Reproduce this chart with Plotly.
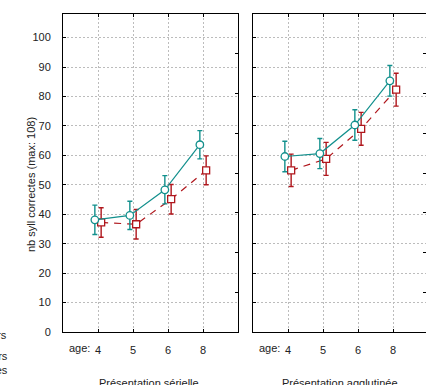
import plotly.graph_objects as go

# ---- data ----
ages = ["4", "5", "6", "8"]
age_pos = [1, 2, 3, 4]
serial_a = [38.1, 39.6, 48.3, 63.6]
serial_a_err = [5.0, 4.8, 4.8, 4.8]
serial_b = [37.2, 36.6, 45.1, 54.9]
serial_b_err = [5.0, 5.0, 5.0, 4.9]
aggl_a = [59.6, 60.6, 70.3, 85.3]
aggl_a_err = [5.2, 5.1, 5.2, 5.2]
aggl_b = [54.9, 58.8, 69.0, 82.3]
aggl_b_err = [5.5, 5.6, 5.6, 5.6]
y_ticks = [0, 10, 20, 30, 40, 50, 60, 70, 80, 90, 100]
right_ticks = [13.5, 27, 40.5, 54, 67.5, 81, 94.5]

TEAL = "#12908d"
RED = "#b0171d"
W, H = 426, 385
T, B = 14, 332
FONT = "Liberation Sans, Arial, sans-serif"

def px_x(px):
    return px / W

def px_y(py):
    return (B - py) / (B - T)

off = 0.09
xa = [p - off for p in age_pos]
xb = [p + off for p in age_pos]

fig = go.Figure()

def add_pair(a, ae, b, be, xref, yref):
    fig.add_trace(go.Scatter(
        x=xb, y=b, xaxis=xref, yaxis=yref, mode="lines+markers",
        line=dict(color=RED, width=1.2, dash="7px,6px"),
        marker=dict(symbol="square", size=7, color="white", line=dict(color=RED, width=1.3)),
        error_y=dict(type="data", array=be, color=RED, thickness=1.4, width=2.5),
        showlegend=False, hoverinfo="skip"))
    fig.add_trace(go.Scatter(
        x=xa, y=a, xaxis=xref, yaxis=yref, mode="lines+markers",
        line=dict(color=TEAL, width=1.2),
        marker=dict(symbol="circle", size=7.5, color="white", line=dict(color=TEAL, width=1.3)),
        error_y=dict(type="data", array=ae, color=TEAL, thickness=1.4, width=2.5),
        showlegend=False, hoverinfo="skip"))

add_pair(serial_a, serial_a_err, serial_b, serial_b_err, "x", "y")
add_pair(aggl_a, aggl_a_err, aggl_b, aggl_b_err, "x2", "y2")
# empty traces to anchor the secondary right-hand tick axes
fig.add_trace(go.Scatter(x=[None], y=[None], xaxis="x", yaxis="y3", showlegend=False))
fig.add_trace(go.Scatter(x=[None], y=[None], xaxis="x2", yaxis="y4", showlegend=False))

grid = dict(showgrid=True, gridcolor="#bcbcbc", griddash="2px,2px", gridwidth=1)
xcommon = dict(tickvals=age_pos, ticktext=ages, ticks="inside", ticklen=3, tickcolor="black",
               showline=True, linecolor="black", linewidth=1.2, mirror="ticks",
               zeroline=False, automargin=False, ticklabelstandoff=8,
               tickfont=dict(size=11, color="#222", family=FONT), **grid)
ycommon = dict(range=[0, 108], tickvals=y_ticks, ticks="inside", ticklen=3, tickcolor="black",
               showline=True, linecolor="black", linewidth=1, zeroline=False, automargin=False,
               tickfont=dict(size=11, color="#222", family=FONT), **grid)
rcommon = dict(range=[0, 108], tickvals=right_ticks, ticks="inside", ticklen=3, tickcolor="black",
               side="right", showticklabels=False, showgrid=False, showline=False,
               zeroline=False, automargin=False)

fig.update_layout(
    width=W, height=H,
    margin=dict(l=0, r=0, t=T, b=H - B, autoexpand=False),
    paper_bgcolor="white", plot_bgcolor="white",
    font=dict(family=FONT, size=11, color="#222"),
    xaxis=dict(domain=[px_x(63), px_x(238)], range=[0, 5], anchor="y", **xcommon),
    yaxis=dict(domain=[0, 1], anchor="x", mirror=True, ticklabelstandoff=9, **ycommon),
    xaxis2=dict(domain=[px_x(253), 1], range=[0, 173 / 35], anchor="y2", **xcommon),
    yaxis2=dict(domain=[0, 1], anchor="x2", mirror=False, showticklabels=False, **ycommon),
    yaxis3=dict(overlaying="y", anchor="x", **rcommon),
    yaxis4=dict(overlaying="y2", anchor="x2", **rcommon),
)

ann = []
def note(text, x, y, xanchor="center", yanchor="middle", angle=0, size=11, color="#222",
         bold=False, align="center"):
    ann.append(dict(text=text, x=x, y=y, xref="paper", yref="paper", xanchor=xanchor,
                    yanchor=yanchor, showarrow=False, textangle=angle, align=align,
                    font=dict(size=size, color=color, family=FONT, weight="bold" if bold else "normal")))

note("nb syll correctes (max: 108)", px_x(31), px_y(185), angle=-90)
note("age:", px_x(92), px_y(348), xanchor="right")
note("age:", px_x(282), px_y(348), xanchor="right")
note("Présentation sérielle", px_x(149), px_y(383))
note("Présentation agglutinée", px_x(340), px_y(383))
note("Figure 2 : Syllabes correctes par groupe", px_x(208), px_y(1.5),
     yanchor="bottom", size=11, bold=True)
note("normo-lecteurs", px_x(9), px_y(335), xanchor="right", align="right")
note("faibles lecteurs<br>adultes", px_x(9.5), px_y(363), xanchor="right", align="right")
fig.update_layout(annotations=ann)

fig.write_html("out.html", config={"displayModeBar": False},
               post_script="document.body.style.margin='0';document.body.style.overflow='hidden';")
